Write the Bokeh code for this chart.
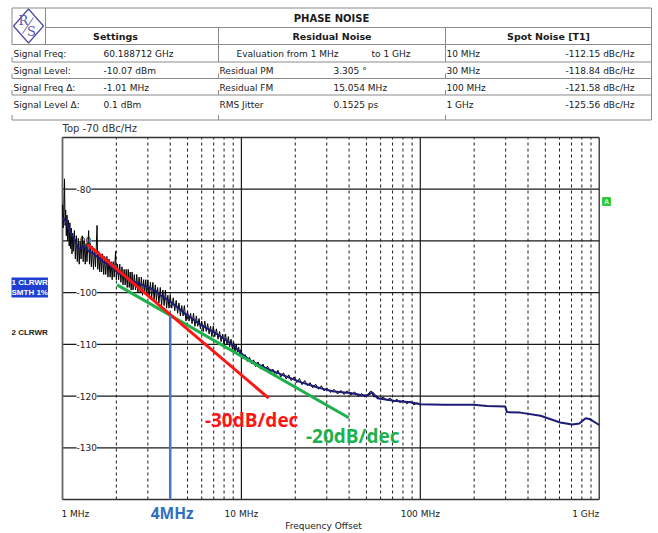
from bokeh.plotting import figure
from bokeh.models import Range1d, LabelSet, Label, ColumnDataSource, LinearScale
from bokeh.core.properties import value
from bokeh.embed import file_html
from bokeh.resources import INLINE
import math

# ---------------- data ----------------
# raw (black) phase-noise trace, offset frequency in MHz, level in dBc/Hz
raw_freq_mhz = [
    1.000, 1.008, 1.016, 1.026, 1.034, 1.042, 1.050, 1.060, 1.070, 1.080, 1.090, 1.100, 1.110, 1.120, 1.130, 1.140, 1.150,
    1.165, 1.180, 1.195, 1.210, 1.225, 1.240, 1.255, 1.270,
    1.290, 1.305, 1.320, 1.340, 1.355, 1.370, 1.385, 1.400, 1.415, 1.430,
    1.450, 1.470, 1.490, 1.510, 1.530, 1.545, 1.560, 1.575, 1.595, 1.615, 1.635, 1.655, 1.675,
    1.700, 1.720, 1.745, 1.770, 1.795, 1.820, 1.845, 1.870, 1.895, 1.920, 1.945, 1.980, 2.000,
    2.03, 2.06, 2.09, 2.12, 2.15, 2.18, 2.21, 2.24, 2.27, 2.30, 2.33, 2.36, 2.39, 2.42, 2.45, 2.48,
    2.52, 2.56, 2.60, 2.64, 2.68, 2.72, 2.76, 2.80, 2.84, 2.88, 2.92, 2.96, 3.00,
    3.05, 3.10, 3.15, 3.20, 3.25, 3.30, 3.35,
    3.40, 3.46, 3.52, 3.58, 3.64, 3.70, 3.76, 3.82, 3.88, 3.94, 4.00,
    4.08, 4.16, 4.24, 4.32, 4.40, 4.48, 4.56, 4.64, 4.72, 4.80,
    4.90, 5.00, 5.10, 5.20, 5.30, 5.40, 5.50, 5.60, 5.70, 5.80, 5.90, 6.00,
    6.12, 6.24, 6.36, 6.48, 6.60, 6.72, 6.84, 6.96,
    7.10, 7.25, 7.40, 7.55, 7.70, 7.85, 8.00, 8.15, 8.30, 8.45, 8.60, 8.75, 8.90, 9.05, 9.20, 9.35, 9.50, 9.65, 9.80, 9.95,
    10.2, 10.5, 10.8, 11.1, 11.4, 11.7, 12.0, 12.4, 12.8, 13.2, 13.6, 14.0, 14.5, 15.0, 15.5, 16.0, 16.6, 17.2, 17.8, 18.4,
    19.0, 19.7, 20.4, 21.1, 21.8, 22.6, 23.4, 24.2, 25.0, 26.0, 27.0, 28.0, 29.0, 30.0,
    31.5, 33.0, 34.5, 36.0, 37.5, 39.0, 41.0, 43.0, 45.0, 47.0, 49.0, 51.0, 53.0, 55.0, 57.0,
    59.5, 62.0, 65.0, 68.0, 71.0, 74.0, 77.0, 80.0, 84.0, 88.0, 92.0, 96.0, 100.0,
]
raw_level_dbc = [
    -83.0, -87.5, -84.5, -78.0, -87.0, -84.0, -89.0, -85.0, -90.0, -86.0, -91.0, -86.5, -91.5, -87.5, -92.5, -88.5, -92.0,
    -88.0, -93.5, -89.0, -94.0, -89.5, -94.5, -90.0, -93.5,
    -89.0, -94.0, -90.0, -94.5, -90.5, -94.0, -91.0, -88.0, -94.5, -90.5,
    -95.0, -91.0, -95.5, -91.5, -95.0, -91.0, -87.0, -95.5, -92.0, -96.0, -92.5, -96.0, -92.5,
    -96.5, -93.0, -96.5, -93.0, -97.0, -93.5, -97.0, -94.0, -97.5, -94.0, -97.0, -92.0, -97.5,
    -94.5, -97.5, -94.5, -98.0, -95.0, -98.5, -95.5, -98.5, -95.5, -99.0, -95.5, -99.0, -96.0, -99.5, -96.0, -99.5,
    -96.5, -99.5, -96.5, -100.0, -97.0, -100.0, -97.0, -100.5, -97.5, -100.0, -97.5, -100.5, -97.5,
    -101.0, -98.0, -101.0, -98.0, -101.5, -98.5, -101.5,
    -99.0, -102.0, -99.0, -102.5, -99.5, -102.5, -99.5, -103.0, -100.5, -103.0, -100.5,
    -103.0, -101.0, -103.5, -101.5, -104.0, -102.0, -104.5, -102.5, -104.5, -102.5,
    -105.5, -103.5, -105.5, -104.0, -106.0, -104.0, -106.5, -104.5, -106.5, -105.0, -107.0, -105.5,
    -107.5, -105.5, -107.5, -106.0, -108.0, -106.5, -108.5, -106.5,
    -108.5, -107.0, -109.0, -107.5, -109.5, -108.0, -110.0, -108.0, -110.0, -108.5, -110.5, -109.0, -111.0, -109.5, -111.5, -110.0, -111.5, -110.5, -112.0, -111.0,
    -112.8, -112.0, -113.3, -112.5, -113.8, -113.0, -114.3, -113.4, -114.8, -113.8, -115.0, -114.2, -115.4, -114.8, -116.0, -115.0, -116.3, -115.5, -116.7, -115.9,
    -117.0, -116.3, -117.4, -116.6, -117.8, -117.0, -118.0, -117.4, -118.4, -117.7, -118.7, -118.0, -119.0, -118.4,
    -119.3, -118.7, -119.6, -118.9, -119.7, -119.0, -119.8, -119.2, -120.1, -119.5, -120.2, -119.6, -119.0, -120.2, -119.9,
    -120.6, -120.2, -120.8, -120.4, -121.1, -120.6, -121.3, -120.8, -121.5, -121.0, -121.7, -121.3, -121.8,
]

# smoothed (SMTH 1%) trace
smooth_freq_mhz = [
    1.00, 1.03, 1.06, 1.09, 1.12, 1.16, 1.20, 1.23, 1.27, 1.31, 1.35, 1.40, 1.47, 1.55, 1.62, 1.67, 1.75, 1.85, 1.95, 2.05,
    2.25, 2.56, 2.80, 3.04, 3.30, 3.53, 4.02, 4.50, 4.80, 5.30, 5.90, 6.50, 7.30, 8.20, 9.10, 10.0,
    11.3, 13.9, 17.2, 21.4, 26.5, 30.0, 32.9, 40.7, 46.4, 50.4, 53.9, 57.6, 71.2, 88.2, 100.0,
    134.6, 198.0, 236.0, 298.0, 305.0, 362.0, 470.0, 605.0, 707.0, 775.0, 840.0, 892.0, 1000.0,
]
smooth_level_dbc = [
    -85.5, -86.0, -86.6, -87.8, -88.8, -89.4, -90.8, -91.5, -91.4, -91.0, -91.4, -92.0, -92.3, -93.0, -93.4, -93.9, -94.3, -94.8, -95.5, -96.2,
    -97.0, -98.0, -98.5, -99.0, -99.6, -100.5, -101.8, -103.1, -104.0, -105.0, -106.2, -107.0, -108.0, -109.2, -110.3, -111.8,
    -113.2, -114.7, -116.0, -117.3, -118.3, -118.8, -119.1, -119.4, -119.8, -119.9, -119.3, -120.4, -120.9, -121.2, -121.6,
    -121.7, -121.7, -121.9, -122.0, -123.1, -123.2, -123.8, -125.1, -125.5, -125.3, -124.3, -124.5, -125.6,
]

# slope guide lines
slope30_freq_mhz = [1.385, 14.2]
slope30_level = [-90.7, -120.4]
slope20_freq_mhz = [2.02, 39.8]
slope20_level = [-98.5, -124.2]
marker_freq_mhz = 4.0

# axes
x_decades_mhz = [1, 10, 100, 1000]
x_tick_labels = ["1 MHz", "10 MHz", "100 MHz", "1 GHz"]
y_limits = [-140, -70]
y_ticks = [-130, -120, -110, -100, -90, -80]
y_tick_labels = ["-130", "-120", "-110", "-100", "-90", "-80"]

# table
settings_labels = ["Signal Freq:", "Signal Level:", "Signal Freq \u0394:", "Signal Level \u0394:"]
settings_values = ["60.188712 GHz", "-10.07 dBm", "-1.01 MHz", "0.1 dBm"]
residual_labels = ["Residual PM", "Residual FM", "RMS Jitter"]
residual_values = ["3.305 \u00b0", "15.054 MHz", "0.1525 ps"]
spot_offsets = ["10 MHz", "30 MHz", "100 MHz", "1 GHz"]
spot_values = ["-112.15 dBc/Hz", "-118.84 dBc/Hz", "-121.58 dBc/Hz", "-125.56 dBc/Hz"]

# ---------------- geometry (page pixels) ----------------
W, H = 658, 533
BOX_L, BOX_R, BOX_T, BOX_B = 62.0, 598.7, 137.0, 499.0
n_dec = math.log10(x_decades_mhz[-1] / x_decades_mhz[0])
dec_per_px = n_dec / (BOX_R - BOX_L)
x_start = x_decades_mhz[0] * 10 ** (-BOX_L * dec_per_px)
x_end = x_decades_mhz[-1] * 10 ** ((W - BOX_R) * dec_per_px)
db_per_px = (y_limits[1] - y_limits[0]) / (BOX_B - BOX_T)
y_top = y_limits[1] + BOX_T * db_per_px
y_bot = y_limits[0] - (H - BOX_B) * db_per_px

p = figure(width=W, height=H, x_axis_type="log",
           x_range=Range1d(x_start, x_end), y_range=Range1d(y_bot, y_top),
           toolbar_location=None, output_backend="svg", min_border=0,
           x_axis_location=None, y_axis_location=None)
p.grid.visible = False
p.outline_line_color = None
p.background_fill_color = "white"
p.border_fill_color = "white"
p.extra_x_ranges = {"px": Range1d(0, W)}
p.extra_y_ranges = {"py": Range1d(H, 0)}
p.extra_x_scales = {"px": LinearScale()}
p.extra_y_scales = {"py": LinearScale()}
PX = dict(x_range_name="px", y_range_name="py")

# ---------------- table ----------------
TXT = "#1a1a1a"
LINE = "#8a8a8a"
L, LOGO_R, C1, C2, R = 11.5, 45.0, 218.0, 445.0, 651.0
TOP, TITLE_B, HEAD_B = 7.5, 27.0, 44.0
row_bottoms = [61.5, 78.0, 94.5, 119.5]
row_centers = [53.0, 70.0, 87.0, 104.0]

hx0 = [L, LOGO_R, L] + [L] * 4
hx1 = [R, R, R] + [R] * 4
hy = [TOP, TITLE_B, HEAD_B] + row_bottoms
p.segment(x0=hx0, y0=hy, x1=hx1, y1=hy, line_color=LINE, line_width=1, **PX)
vx = [L, LOGO_R, R, C1, C2]
vy0 = [TOP, TOP, TOP, TITLE_B, TITLE_B]
vy1 = [HEAD_B, HEAD_B, row_bottoms[-1], row_bottoms[0], row_bottoms[0]]
p.segment(x0=vx, y0=vy0, x1=vx, y1=vy1, line_color=LINE, line_width=1, **PX)
tx, ty0, ty1 = [], [], []
for rb in row_bottoms:
    for cx in (L, C1, C2):
        tx.append(cx); ty0.append(rb - 5); ty1.append(rb)
p.segment(x0=tx, y0=ty0, x1=tx, y1=ty1, line_color=LINE, line_width=1, **PX)

# logo
p.patch(x=[13, 28, 43, 28], y=[25.5, 8.5, 25.5, 42.5], fill_color="white",
        line_color="#4a4aa0", line_width=1.2, **PX)
p.text(x=[23, 31], y=[20, 31], text=["R", "S"], text_font=value("DejaVu Serif"),
       text_font_size="13px", text_color="#5a5ab8", text_align="center", text_baseline="middle", **PX)
p.segment(x0=[22], y0=[33], x1=[33], y1=[17], line_color="#8080c8", line_width=1.2, **PX)

# headings
p.text(x=[331], y=[17.5], text=["PHASE NOISE"], text_font=value("DejaVu Sans"),
       text_font_size="10px", text_font_style="bold", text_color=TXT,
       text_align="center", text_baseline="middle", **PX)
p.text(x=[115, 331.5, 548], y=[35.5] * 3, text=["Settings", "Residual Noise", "Spot Noise [T1]"],
       text_font=value("DejaVu Sans"), text_font_size="9.5px", text_font_style="bold",
       text_color=TXT, text_align="center", text_baseline="middle", **PX)

cell_x, cell_y, cell_t = [], [], []
for i in range(4):
    cell_x += [13, 103, 446]
    cell_y += [row_centers[i]] * 3
    cell_t += [settings_labels[i], settings_values[i], spot_offsets[i]]
for i in range(3):
    cell_x += [219, 333]
    cell_y += [row_centers[i + 1]] * 2
    cell_t += [residual_labels[i], residual_values[i]]
cell_x += [236, 371]
cell_y += [row_centers[0]] * 2
cell_t += ["Evaluation from  1 MHz", "to  1 GHz"]
p.text(x=cell_x, y=cell_y, text=cell_t, text_font=value("DejaVu Sans"), text_font_size="9px",
       text_color=TXT, text_align="left", text_baseline="middle", **PX)
p.text(x=[634] * 4, y=row_centers, text=spot_values, text_font=value("DejaVu Sans"),
       text_font_size="9px", text_color=TXT, text_align="right", text_baseline="middle", **PX)

# ---------------- plot box, grid ----------------
GRID = "#1a1a1a"
x0d, x1d = x_decades_mhz[0], x_decades_mhz[-1]
minor = [m * d for d in x_decades_mhz[:-1] for m in range(2, 10)]
r = p.segment(x0=minor, y0=[y_limits[0]] * len(minor), x1=minor, y1=[y_limits[1]] * len(minor),
              line_color=GRID, line_width=1, line_dash="3 3")
r.level = "image"
r = p.segment(x0=x_decades_mhz, y0=[y_limits[0]] * 4, x1=x_decades_mhz, y1=[y_limits[1]] * 4,
              line_color=GRID, line_width=1.2)
r.level = "image"
r = p.segment(x0=[x0d] * len(y_ticks), y0=y_ticks, x1=[x1d] * len(y_ticks), y1=y_ticks,
              line_color=GRID, line_width=1.2)
r.level = "image"
r = p.segment(x0=[x0d, x0d], y0=y_limits, x1=[x1d, x1d], y1=y_limits, line_color="#333333", line_width=1.3)
r.level = "image"
r = p.segment(x0=[x0d], y0=[y_limits[0]], x1=[x0d], y1=[y_limits[1]], line_color="#666666", line_width=1.6)
r.level = "image"

ysrc = ColumnDataSource(dict(x=[x0d] * len(y_ticks), y=y_ticks, t=y_tick_labels))
ylab = LabelSet(x="x", y="y", text="t", source=ysrc, x_offset=14, text_align="left",
                text_baseline="middle", text_font=value("DejaVu Sans"), text_font_size="9px",
                text_color="#222222", background_fill_color="white", level="underlay")
p.add_layout(ylab)

# ---------------- traces ----------------
p.line(raw_freq_mhz, raw_level_dbc, line_color="black", line_width=1)
p.line(smooth_freq_mhz, smooth_level_dbc, line_color="#1c1c78", line_width=2)

p.line(slope20_freq_mhz, slope20_level, line_color="#1fb04e", line_width=3)
p.line(slope30_freq_mhz, slope30_level, line_color="#ff1414", line_width=3)

t = (math.log10(marker_freq_mhz) - math.log10(slope20_freq_mhz[0])) / \
    (math.log10(slope20_freq_mhz[1]) - math.log10(slope20_freq_mhz[0]))
marker_top = slope20_level[0] + t * (slope20_level[1] - slope20_level[0])
p.segment(x0=[marker_freq_mhz], y0=[marker_top], x1=[marker_freq_mhz], y1=[y_limits[0]],
          line_color="#4a78c8", line_width=2.5)

# ---------------- labels ----------------
aligns = ["left", "center", "center", "right"]
offs = [-1, 0, 0, 0]
for xv, lab, al, o in zip(x_decades_mhz, x_tick_labels, aligns, offs):
    p.add_layout(Label(x=xv, y=y_limits[0], text=lab, x_offset=o, y_offset=-14, text_align=al,
                       text_baseline="middle", text_font="DejaVu Sans", text_font_size="9px",
                       text_color="#222222"))

p.add_layout(Label(x=323, y=525, text="Frequency Offset", text_align="center", text_baseline="middle",
                   text_font="DejaVu Sans", text_font_size="9px", text_color="#222222", **PX))
p.add_layout(Label(x=62, y=128, text="Top -70 dBc/Hz", text_align="left", text_baseline="middle",
                   text_font="DejaVu Sans", text_font_size="10px", text_color="#333333", **PX))

p.add_layout(Label(x=marker_freq_mhz, y=y_limits[0], text="4MHz", x_offset=2, y_offset=-13,
                   text_align="center", text_baseline="middle", text_font="Open Sans",
                   text_font_size="15.5px", text_font_style="bold", text_color="#2e6fc0"))
p.add_layout(Label(x=slope30_freq_mhz[1], y=slope30_level[1], text="-30dB/dec", x_offset=-17,
                   y_offset=-22, text_align="center", text_baseline="middle", text_font="Open Sans",
                   text_font_size="19px", text_font_style="bold", text_color="#ff1414"))
p.add_layout(Label(x=slope20_freq_mhz[1], y=slope20_level[1], text="-20dB/dec", x_offset=4,
                   y_offset=-18, text_align="center", text_baseline="middle", text_font="Open Sans",
                   text_font_size="19px", text_font_style="bold", text_color="#1fb04e"))

p.add_layout(Label(x=11, y=287, text="1 CLRWR\nSMTH 1%", text_align="left", text_baseline="middle",
                   text_font="Liberation Sans", text_font_size="8px", text_font_style="bold",
                   text_color="white", background_fill_color="#1f3fd0", **PX))
p.add_layout(Label(x=11, y=332, text="2 CLRWR", text_align="left", text_baseline="middle",
                   text_font="Liberation Sans", text_font_size="8px", text_font_style="bold",
                   text_color="#222222", **PX))
p.rect(x=[606], y=[201], width=8, height=8, fill_color="#2ec23c", line_color="#3ad04a", **PX)
p.add_layout(Label(x=606, y=201, text="A", text_align="center", text_baseline="middle",
                   text_font="Liberation Sans", text_font_size="7px", text_font_style="bold",
                   text_color="#c8ffc8", **PX))

open("out.html", "w").write(file_html(p, INLINE))
